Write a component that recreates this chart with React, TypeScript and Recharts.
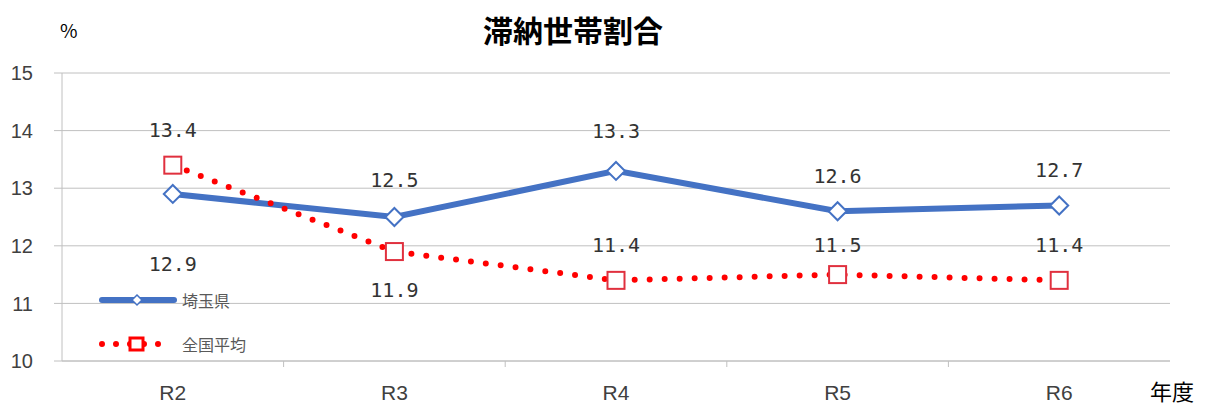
import React from "react";
import {
    LineChart,
    Line,
    XAxis,
    YAxis,
    CartesianGrid,
    Legend
} from "recharts";

const years = ["R2", "R3", "R4", "R5", "R6"];
const saitama = [12.9, 12.5, 13.3, 12.6, 12.7];
const national = [13.4, 11.9, 11.4, 11.5, 11.4];
const yTicks = [10, 11, 12, 13, 14, 15];

// vertical offset of each value label from its point
const saitamaLabelDy = [70, -37, -40, -35, -35];
const nationalLabelDy = [-35, 38, -35, -30, -35];

const BLUE = "#4472C4";
const RED = "#FF0000";
const SQUARE_RED = "#E0303E";
const GRID = "#C0C0C0";
const TEXT = "#404040";

const data = years.map((y, i) => ({
    year: y,
    saitama: saitama[i],
    national: national[i]
}));

const Diamond = (props: any) => {
    const { cx, cy } = props;
    if (cx == null || cy == null) return null;
    const r = 9;
    return (
        <path
            d={`M${cx},${cy - r} L${cx + r},${cy} L${cx},${cy + r} L${cx - r},${cy} Z`}
            fill="#fff"
            stroke={BLUE}
            strokeWidth={2}
        />
    );
};

const Square = (props: any) => {
    const { cx, cy } = props;
    if (cx == null || cy == null) return null;
    const r = 8.5;
    return (
        <rect
            x={cx - r}
            y={cy - r}
            width={r * 2}
            height={r * 2}
            fill="#fff"
            stroke={SQUARE_RED}
            strokeWidth={2}
        />
    );
};

const makeLabel = (dys: number[]) => (props: any) => {
    const { x, y, value, index } = props;
    return (
        <text
            x={x}
            y={y + dys[index]}
            textAnchor="middle"
            dominantBaseline="central"
            fontFamily="'DejaVu Sans Mono', 'Liberation Mono', monospace"
            fontSize={20}
            fill="#333"
        >
            {Number(value).toFixed(1)}
        </text>
    );
};

const XTick = (props: any) => {
    const { x, y, payload, index } = props;
    const half = payload?.offset ?? 0;
    return (
        <g>
            <text
                x={x}
                y={y + 31}
                textAnchor="middle"
                dominantBaseline="central"
                fontFamily="'Liberation Sans Narrow', 'Liberation Sans', sans-serif"
                fontSize={21}
                fill={TEXT}
            >
                {payload.value}
            </text>
            {half > 0 && index > 0 && (
                <line x1={x - half} x2={x - half} y1={y} y2={y + 6} stroke={GRID} />
            )}
        </g>
    );
};

const renderLegend = () => {
    const row: React.CSSProperties = {
        display: "flex",
        alignItems: "center",
        height: 44
    };
    const label: React.CSSProperties = {
        fontFamily: "'Noto Sans CJK JP', sans-serif",
        fontSize: 16,
        color: "#595959",
        marginLeft: 1
    };
    return (
        <div>
            <div style={row}>
                <svg width={82} height={20}>
                    <line x1={3} x2={75} y1={10} y2={10} stroke={BLUE} strokeWidth={6} strokeLinecap="round" />
                    <path d="M38,5 L43,10 L38,15 L33,10 Z" fill="#fff" stroke={BLUE} strokeWidth={1.5} />
                </svg>
                <span style={label}>埼玉県</span>
            </div>
            <div style={row}>
                <svg width={82} height={20}>
                    <line x1={3} x2={72} y1={10} y2={10} stroke={RED} strokeWidth={6} strokeLinecap="round" strokeDasharray="0 14" />
                    <rect x={31} y={4} width={13} height={12} fill="#fff" stroke={RED} strokeWidth={3} />
                </svg>
                <span style={label}>全国平均</span>
            </div>
        </div>
    );
};

export default function App() {
    return (
        <div style={{ position: "relative", width: 1200, height: 397 }}>
            <div
                style={{
                    position: "absolute",
                    left: 0,
                    width: 1130,
                    top: -1,
                    textAlign: "center",
                    fontFamily: "'Noto Sans CJK JP', sans-serif",
                    fontWeight: 700,
                    fontSize: 30,
                    color: "#000"
                }}
            >
                滞納世帯割合
            </div>
            <div
                style={{
                    position: "absolute",
                    left: 52,
                    top: 8,
                    fontFamily: "'Noto Sans CJK JP', sans-serif",
                    fontSize: 19,
                    color: "#000"
                }}
            >
                %
            </div>
            <div
                style={{
                    position: "absolute",
                    left: 1142,
                    top: 366,
                    fontFamily: "'Noto Sans CJK JP', sans-serif",
                    fontSize: 22,
                    color: "#000"
                }}
            >
                年度
            </div>
            <LineChart
                width={1200}
                height={397}
                data={data}
                margin={{ top: 65, right: 38, left: 0, bottom: 0 }}
            >
                <CartesianGrid vertical={false} stroke={GRID} />
                <XAxis
                    dataKey="year"
                    scale="band"
                    height={44}
                    axisLine={{ stroke: GRID }}
                    tickLine={false}
                    tickSize={0}
                    tickMargin={0}
                    tick={<XTick />}
                    interval={0}
                />
                <YAxis
                    width={54}
                    domain={[10, 15]}
                    ticks={yTicks}
                    interval={0}
                    tickSize={8}
                    tickMargin={21}
                    axisLine={{ stroke: GRID }}
                    tickLine={{ stroke: GRID }}
                    tick={{
                        fill: TEXT,
                        fontSize: 20,
                        fontFamily: "'Liberation Sans Narrow', 'Liberation Sans', sans-serif"
                    }}
                />
                <YAxis
                    yAxisId="r"
                    orientation="right"
                    width={0}
                    domain={[10, 15]}
                    tick={false}
                    tickLine={false}
                    axisLine={{ stroke: GRID }}
                />
                <Legend
                    layout="vertical"
                    align="center"
                    verticalAlign="middle"
                    content={renderLegend}
                    wrapperStyle={{ left: 91, top: 270, width: 200, height: 88 }}
                />
                <Line
                    dataKey="saitama"
                    name="埼玉県"
                    stroke={BLUE}
                    strokeWidth={6}
                    dot={<Diamond />}
                    activeDot={false}
                    label={makeLabel(saitamaLabelDy)}
                    isAnimationActive={false}
                />
                <Line
                    dataKey="national"
                    name="全国平均"
                    stroke={RED}
                    strokeWidth={6}
                    strokeLinecap="round"
                    strokeDasharray="0 15"
                    dot={<Square />}
                    activeDot={false}
                    label={makeLabel(nationalLabelDy)}
                    isAnimationActive={false}
                />
            </LineChart>
        </div>
    );
}
